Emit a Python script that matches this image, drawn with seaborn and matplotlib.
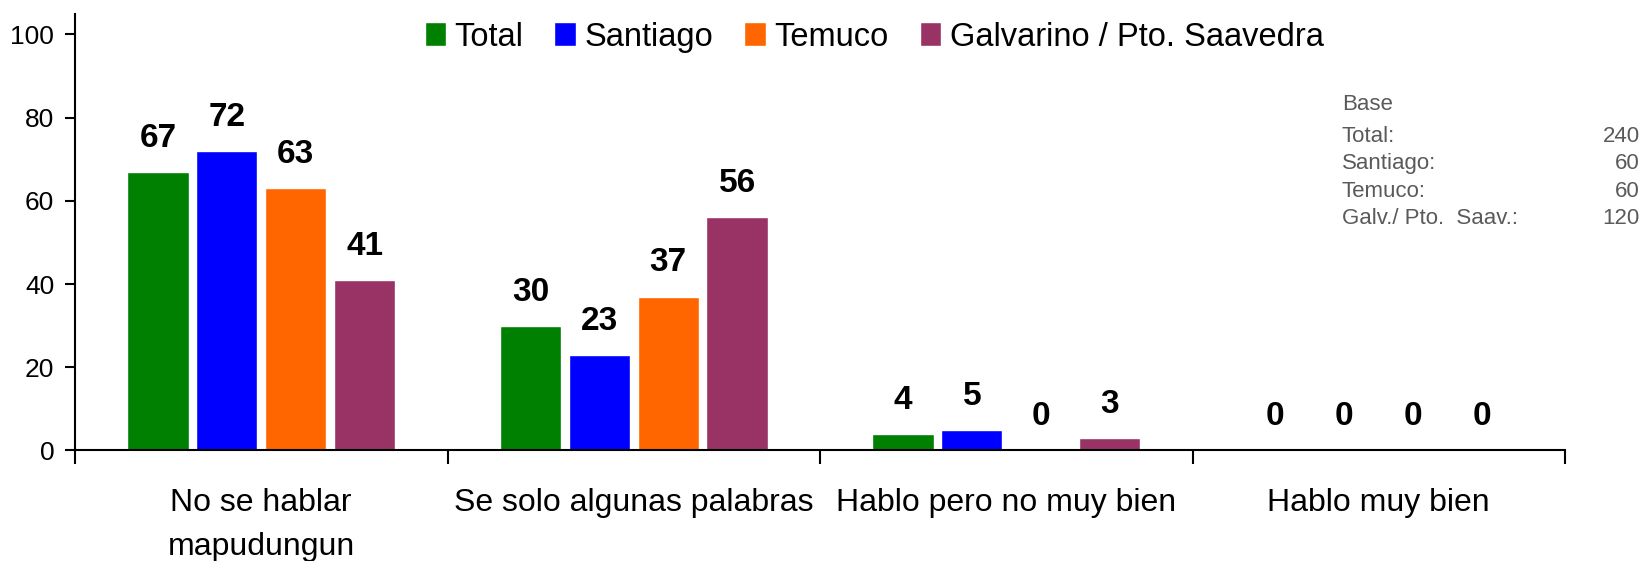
import seaborn as sns
import matplotlib.pyplot as plt
import pandas as pd

categories = ['No se hablar\nmapudungun', 'Se solo algunas palabras',
              'Hablo pero no muy bien', 'Hablo muy bien']
groups = ['Total', 'Santiago', 'Temuco', 'Galvarino / Pto. Saavedra']
total = [67, 30, 4, 0]
santiago = [72, 23, 5, 0]
temuco = [63, 37, 0, 0]
galvarino = [41, 56, 3, 0]
colors = ['#008000', '#0000FF', '#FF6600', '#993366']

base_labels = ['Total:', 'Santiago:', 'Temuco:', 'Galv./ Pto.  Saav.:']
base_values = [240, 60, 60, 120]

rows = []
for g, vals in zip(groups, [total, santiago, temuco, galvarino]):
    for c, v in zip(categories, vals):
        rows.append({'cat': c, 'grupo': g, 'val': v})
df = pd.DataFrame(rows)

sns.set_style('ticks')
plt.rcParams['font.family'] = ['Liberation Sans', 'DejaVu Sans']
plt.rcParams['text.color'] = 'black'
plt.rcParams['xtick.color'] = 'black'
plt.rcParams['ytick.color'] = 'black'
plt.rcParams['axes.edgecolor'] = 'black'

fig = plt.figure(figsize=(16.46, 5.61), dpi=100)
ax = fig.add_axes([75 / 1646, 0.197, (1565 - 75) / 1646, 0.9758 - 0.197])

sns.barplot(data=df, x='cat', y='val', hue='grupo', hue_order=groups,
            order=categories, palette=colors, width=0.74, gap=0.11,
            saturation=1, ax=ax, legend=True)

for cont in ax.containers:
    ax.bar_label(cont, labels=[f'{int(b.get_height())}' for b in cont],
                 padding=13, fontsize=24, fontweight='bold', color='black')

ax.set_xlim(-0.5, 3.5)
ax.set_ylim(0, 105)
ax.set_yticks([0, 20, 40, 60, 80, 100])
ax.set_xlabel('')
ax.set_ylabel('')
ax.tick_params(axis='y', labelsize=19, length=7, width=1.5, pad=8)
ax.tick_params(axis='x', which='major', length=0, labelsize=23, pad=27)
ax.set_xticks([-0.5, 0.5, 1.5, 2.5, 3.5], minor=True)
ax.tick_params(axis='x', which='minor', length=10, width=1.5, direction='out')
for lab in ax.get_xticklabels():
    lab.set_verticalalignment('top')
    lab.set_linespacing(1.6)
sns.despine(ax=ax)
ax.spines['left'].set_linewidth(1.5)
ax.spines['bottom'].set_linewidth(1.5)

handles, labels = ax.get_legend_handles_labels()
ax.get_legend().remove()
fig.legend(handles, labels, loc='center', bbox_to_anchor=(0.531, 0.934),
           ncol=4, frameon=False, fontsize=23.5, handlelength=0.67,
           handleheight=0.76, handletextpad=0.25, columnspacing=0.95,
           borderpad=0)

grey = '#5a5a5a'
fig.text(1342 / 1646, 1 - 104 / 561, 'Base', fontsize=16, color=grey,
         ha='left', va='center')
for i, (lab, v) in enumerate(zip(base_labels, base_values)):
    y = 1 - (136.5 + 27.3 * i) / 561
    fig.text(1342 / 1646, y, lab, fontsize=16, color=grey, ha='left', va='center')
    fig.text(1640 / 1646, y, str(v), fontsize=16, color=grey, ha='right', va='center')

fig.savefig('out.png', dpi=100)
